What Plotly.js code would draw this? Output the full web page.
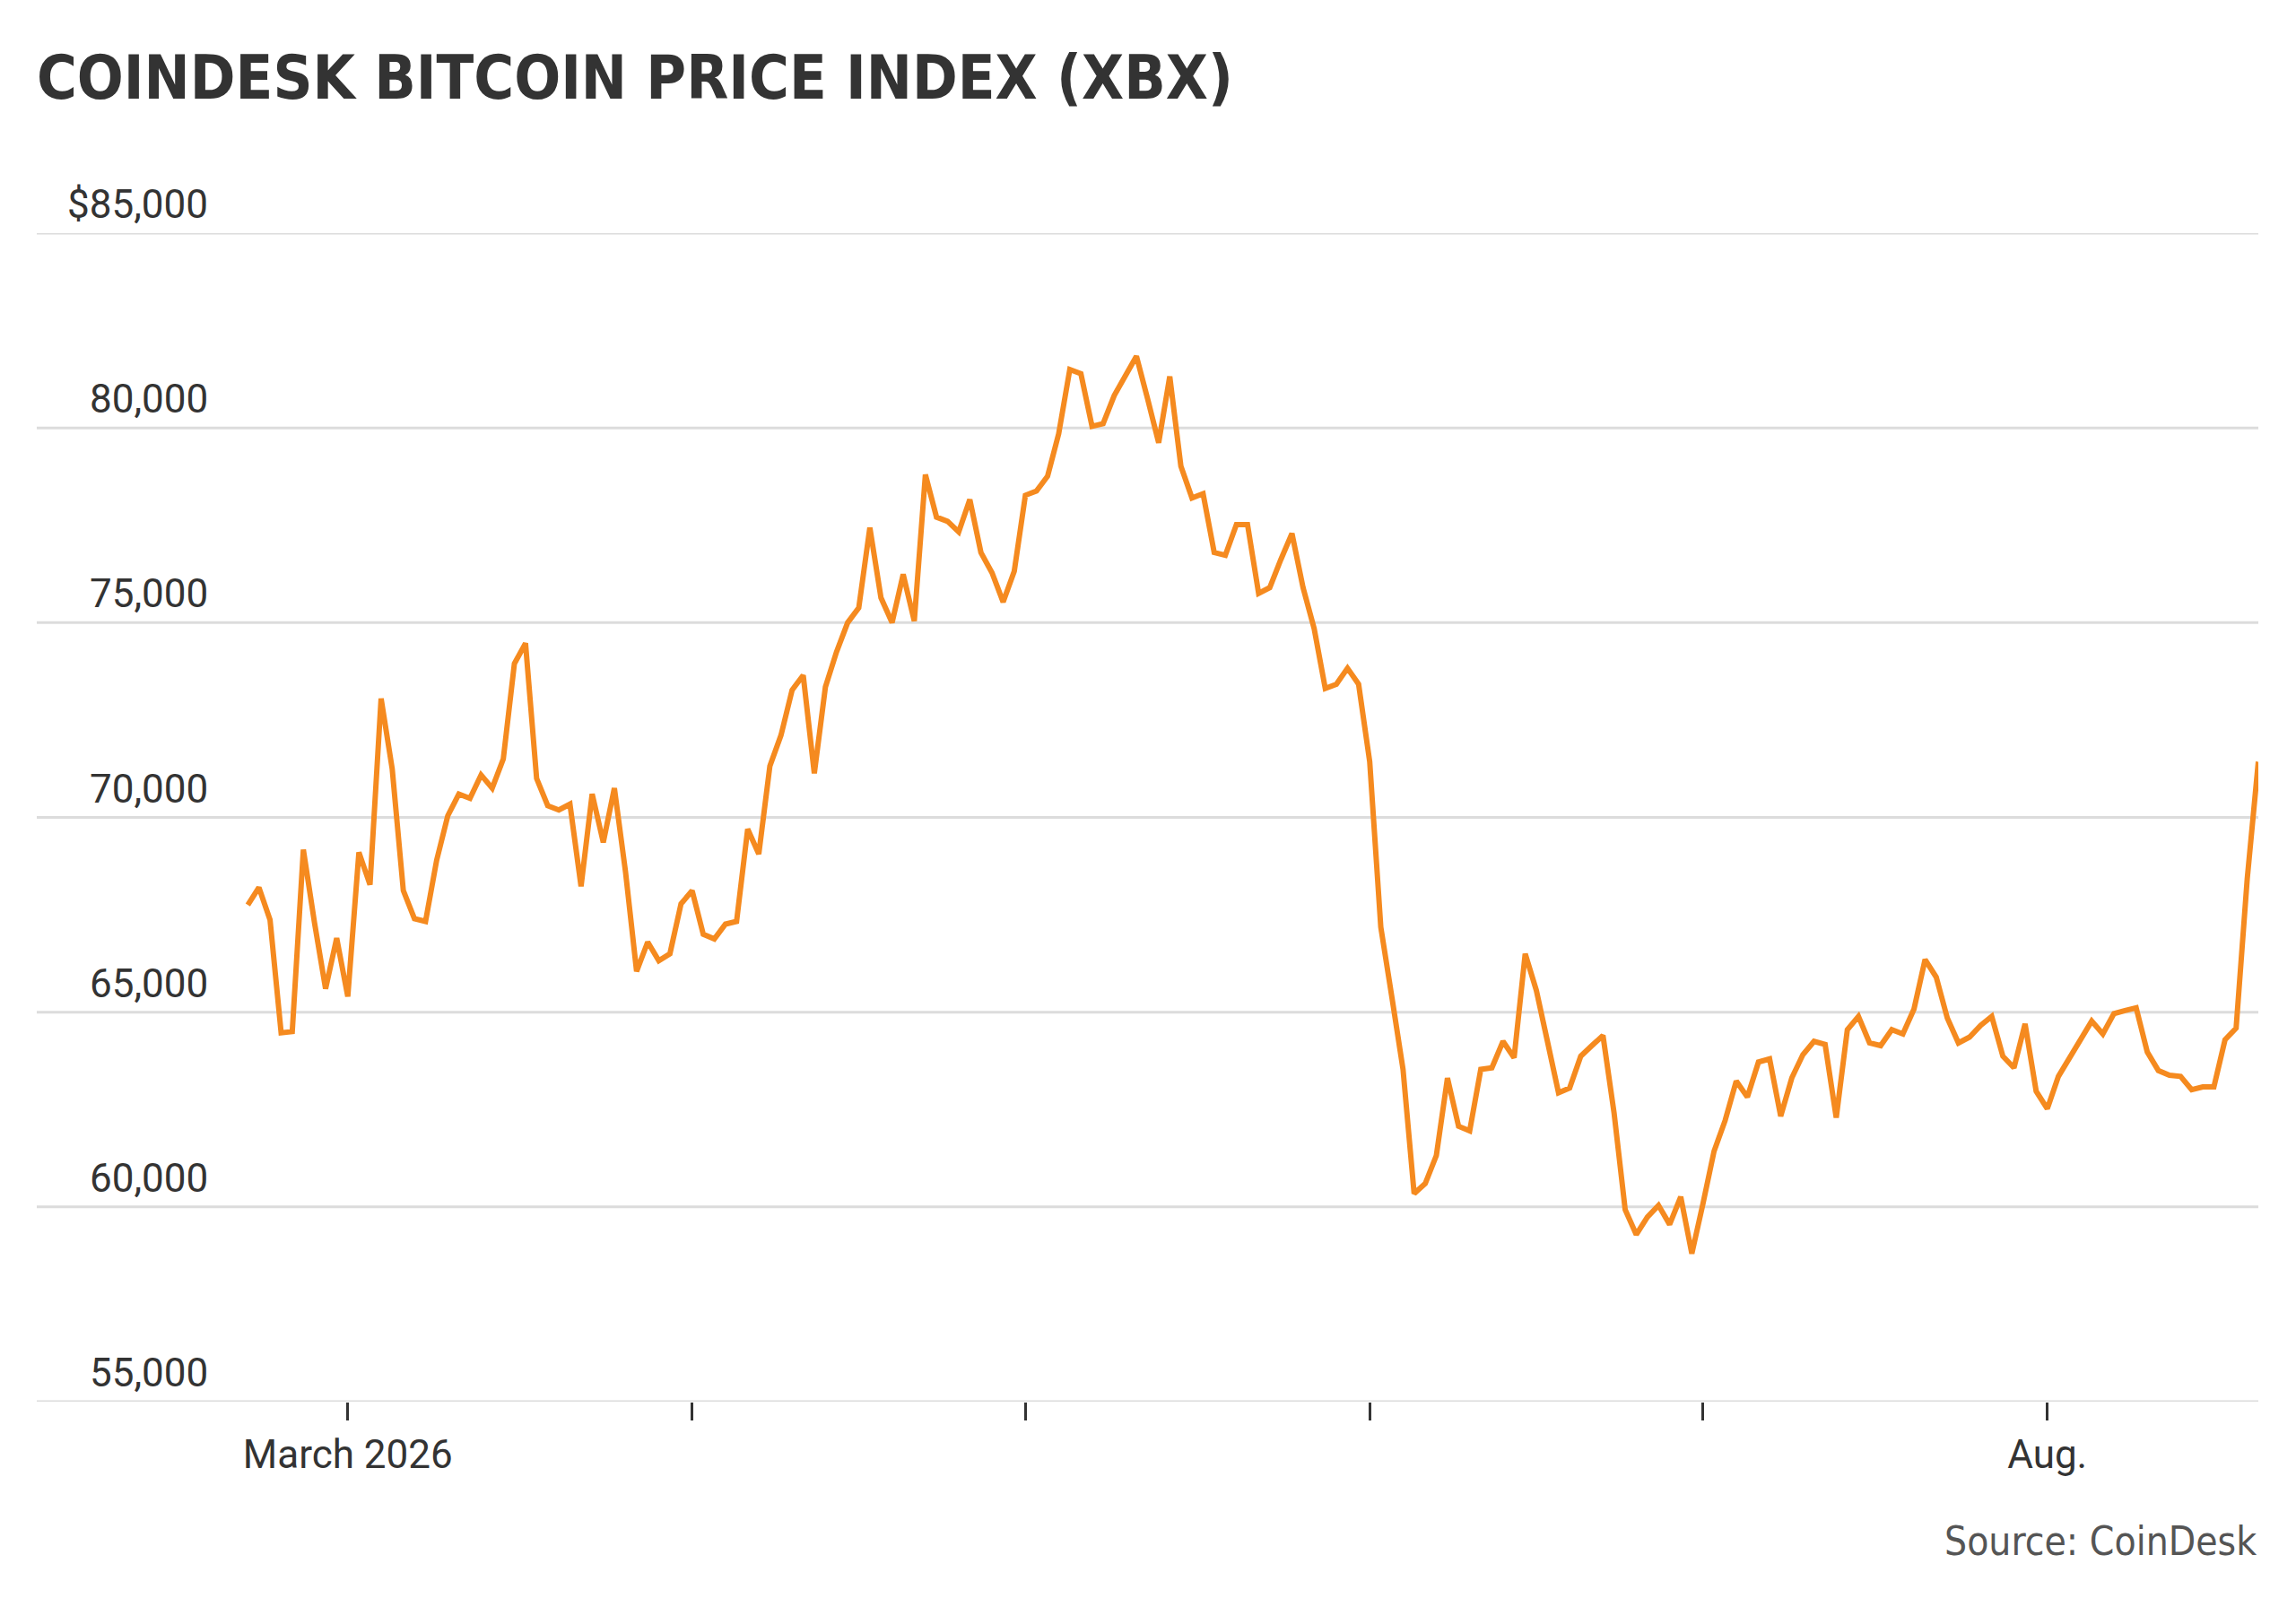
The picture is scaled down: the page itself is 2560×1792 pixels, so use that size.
<!DOCTYPE html>
<html>
<head>
<meta charset="utf-8">
<script src="https://cdn.plot.ly/plotly-3.0.1.min.js"></script>
<style>body{margin:0;background:#fff}#chart{width:2560px;height:1792px}</style>
</head>
<body>
<div id="chart"></div>
<script>
// daily closes, starting 2026-02-20
const startDate = '2026-02-20';
const prices = [
  67750, 68200, 67370, 64470, 64500, 69170, 67300, 65600, 66900, 65400,
  69100, 68270, 73050, 71240, 68120, 67400, 67330, 68900, 70040, 70600,
  70490, 71090, 70750, 71500, 73950, 74470, 71000, 70300, 70190, 70340,
  68230, 70600, 69360, 70750, 68610, 66050, 66800, 66320, 66500, 67780,
  68120, 67000, 66880, 67260, 67330, 69700, 69060, 71320, 72110, 73270,
  73650, 71130, 73350, 74250, 75000, 75380, 77440, 75640, 75000, 76240,
  75040, 78800, 77710, 77600, 77330, 78160, 76800, 76280, 75530, 76320,
  78270, 78380, 78760, 79850, 81500, 81390, 80040, 80110, 80830, 81350,
  81840, 80750, 79620, 81320, 79020, 78200, 78310, 76800, 76730, 77520,
  77520, 75750, 75900, 76620, 77290, 75900, 74850, 73310, 73420, 73830,
  73420, 71430, 67180, 65380, 63530, 60340, 60600, 61320, 63310, 62070,
  61950, 63530, 63570, 64250, 63830, 66500, 65560, 64250, 62930, 63050,
  63870, 64140, 64400, 62410, 59930, 59290, 59740, 60040, 59550, 60260,
  58800, 60080, 61430, 62220, 63230, 62820, 63720, 63800, 62330, 63310,
  63910, 64250, 64170, 62290, 64550, 64890, 64210, 64140, 64550, 64440,
  65080, 66350, 65900, 64850, 64210, 64360, 64660, 64890, 63870, 63570,
  64700, 62970, 62520, 63350, 63830, 64250, 64770, 64440, 64960, 65040,
  65110, 63980, 63500, 63380, 63350, 63010, 63080, 63080, 64290, 64590,
  68420, 71430
];
const yTickVals = [55000, 60000, 65000, 70000, 75000, 80000, 85000];
const yTickText = ['55,000', '60,000', '65,000', '70,000', '75,000', '80,000', '$85,000'];
const xTickVals = ['2026-03-01', '2026-04-01', '2026-05-01', '2026-06-01', '2026-07-01', '2026-08-01'];
const xTickText = ['March 2026', '', '', '', '', 'Aug.'];

const dates = prices.map((_, i) => {
  const d = new Date(startDate + 'T00:00:00Z');
  d.setUTCDate(d.getUTCDate() + i);
  return d.toISOString().slice(0, 10);
});

const font = 'Roboto, "Liberation Sans", sans-serif';
const condensed = '"DejaVu Sans Condensed", "DejaVu Sans", sans-serif';

const annotations = yTickVals.map((v, i) => ({
  x: 0.078, xref: 'paper', xanchor: 'right',
  y: v, yref: 'y', yanchor: 'bottom', yshift: 4,
  text: yTickText[i], showarrow: false,
  font: {family: font, size: 44, color: '#333'}
}));
annotations.push({
  x: 1, xref: 'paper', xanchor: 'right',
  y: -0.119, yref: 'paper', yanchor: 'middle',
  text: 'Source: CoinDesk', showarrow: false,
  font: {family: condensed, size: 44, color: '#555'}
});

// full-width grid lines (edge lines are not drawn by the axis grid)
const shapes = yTickVals.map(v => ({
  type: 'line', xref: 'paper', x0: 0, x1: 1, yref: 'y', y0: v, y1: v,
  line: {color: '#dcdcdc', width: 3}, layer: 'below'
}));

Plotly.newPlot('chart', [{
  x: dates, y: prices, type: 'scatter', mode: 'lines',
  line: {color: '#F58A1F', width: 6}, hoverinfo: 'skip'
}], {
  width: 2560, height: 1792,
  paper_bgcolor: '#fff', plot_bgcolor: '#fff',
  margin: {l: 41, r: 42, t: 260, b: 229},
  showlegend: false,
  title: {
    text: '<b>COINDESK BITCOIN PRICE INDEX (XBX)</b>',
    x: 0.016, xanchor: 'left', y: 0.965, yanchor: 'top',
    font: {family: condensed, size: 68, color: '#333'}
  },
  xaxis: {
    type: 'date', range: ['2026-02-01', '2026-08-20'],
    tickvals: xTickVals, ticktext: xTickText,
    ticks: 'outside', ticklen: 20, tickwidth: 3, tickcolor: '#333',
    showgrid: false, showline: false, zeroline: false,
    tickfont: {family: font, size: 44, color: '#333'}
  },
  yaxis: {
    range: [55000, 85000], tickvals: yTickVals, showticklabels: false,
    showgrid: false, zeroline: false, fixedrange: true
  },
  shapes: shapes,
  annotations: annotations
}, {staticPlot: true});
</script>
</body>
</html>
